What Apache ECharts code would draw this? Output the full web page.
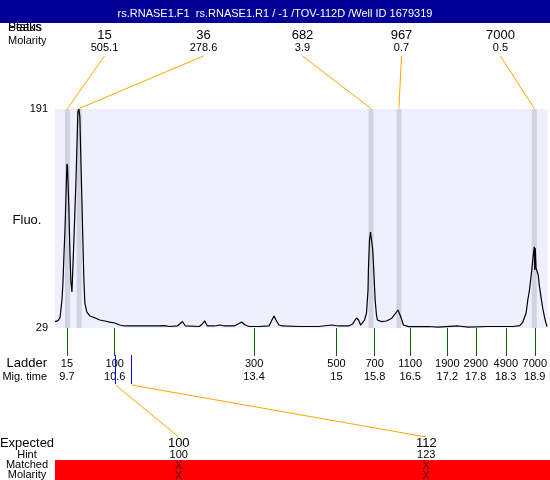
<!DOCTYPE html>
<html><head><meta charset="utf-8">
<script src="https://cdn.jsdelivr.net/npm/echarts@6/dist/echarts.min.js"></script>
<style>html,body{margin:0;padding:0;background:#fff}#c{width:550px;height:480px}</style>
</head><body><div id="c"></div>
<script>
const title = 'rs.RNASE1.F1  rs.RNASE1.R1 / -1 /TOV-112D /Well ID 1679319';
const traceTime = [9.465,9.524,9.563,9.602,9.622,9.641,9.661,9.680,9.700,9.710,9.720,9.739,9.759,9.778,9.798,9.817,9.837,9.857,9.876,9.896,9.915,9.935,9.954,9.974,9.994,10.013,10.033,10.052,10.091,10.150,10.209,10.248,10.346,10.444,10.542,10.640,10.737,10.835,11.129,11.520,11.618,11.716,11.873,11.970,12.029,12.303,12.362,12.411,12.460,12.597,12.714,12.793,12.989,13.067,13.135,13.204,13.283,13.478,13.674,13.732,13.772,13.811,13.869,13.928,14.261,14.652,14.907,15.044,15.240,15.318,15.395,15.434,15.474,15.513,15.552,15.591,15.621,15.630,15.650,15.670,15.689,15.714,15.738,15.761,15.787,15.806,15.885,15.983,16.022,16.081,16.120,16.169,16.208,16.251,16.286,16.316,16.414,16.805,17.001,17.392,17.588,17.980,18.273,18.469,18.606,18.665,18.730,18.763,18.796,18.841,18.870,18.890,18.900,18.910,18.925,18.945,18.968,18.988,19.023,19.056,19.090,19.115,19.141];
const traceFluo = [33.7,34.5,36.4,49.7,63.0,83.0,101.5,125.9,150.3,148.8,138.5,116.3,84.5,63.0,55.6,74.1,94.1,116.3,136.3,162.9,188.8,191.0,185.1,153.3,123.7,94.1,64.5,47.5,40.8,37.9,37.1,36.4,34.9,34.2,33.4,32.7,31.2,30.5,30.5,30.5,30.8,30.1,30.5,33.8,30.5,30.1,32.0,34.2,30.5,30.5,31.2,30.5,30.5,32.0,33.4,31.2,30.1,30.1,30.5,34.9,37.9,34.9,31.2,30.5,30.1,30.1,31.2,30.5,30.5,32.0,36.4,34.9,31.2,32.0,34.9,40.1,57.1,74.1,94.1,100.0,100.8,86.7,68.2,49.7,38.6,34.9,33.7,34.2,34.9,36.0,37.4,40.1,42.3,38.6,34.9,31.2,30.0,30.1,29.7,30.5,29.7,30.1,30.1,30.1,30.8,33.4,40.1,49.7,57.1,71.9,83.0,89.1,71.9,88.2,73.4,73.4,68.2,60.8,51.9,43.8,37.4,33.4,30.0];
const peakTimes = [9.71, 9.941, 15.68, 16.228, 18.89];
const peakSizes = ['15','36','682','967','7000'];
const peakMolarity = ['505.1','278.6','3.9','0.7','0.5'];
const ladderSizes = ['15','100','300','500','700','1100','1900','2900','4900','7000'];
const ladderTimes = [9.70,10.64,13.38,15.00,15.75,16.45,17.18,17.74,18.33,18.90];
const ladderTimeLabels = ['9.7','10.6','13.4','15','15.8','16.5','17.2','17.8','18.3','18.9'];
const expectedSizes = ['100','112'];
const hintSizes = ['100','123'];
const matchedMarks = ['X','X'];
const molarityMarks = ['X','X'];
const expectedTimes = [10.64, 10.955];
const yTicks = [29, 191];

const FONT = '"Liberation Sans", Arial, sans-serif';
const XMIN = 9.465, XMAX = 19.154, bandHalf = 0.049;
const chart = echarts.init(document.getElementById('c'));
chart.setOption({
  animation: false,
  backgroundColor: '#fff',
  textStyle: {fontFamily: FONT},
  grid: [
    {left: 55, right: 0, top: 109, height: 219, show: true, backgroundColor: '#EFEFFD', borderWidth: 0},
    {left: 55, right: 0, top: 30, height: 10},
    {left: 55, right: 0, top: 460, height: 20, show: true, backgroundColor: '#FF0000', borderWidth: 0}
  ],
  xAxis: [
    {gridIndex: 0, type: 'value', min: XMIN, max: XMAX,
     axisLine: {show: false}, splitLine: {show: false},
     axisTick: {show: true, customValues: ladderTimes, length: 28, lineStyle: {color: '#006400', width: 1}},
     axisLabel: {customValues: ladderTimes, margin: 29, showMinLabel: true, showMaxLabel: true,
       formatter: function (v) {
         let i = 0, best = 1e9;
         ladderTimes.forEach((t, k) => { if (Math.abs(t - v) < best) { best = Math.abs(t - v); i = k; } });
         return '{a|' + ladderSizes[i] + '}\n{b|' + ladderTimeLabels[i] + '}';
       },
       rich: {a: {fontSize: 11, lineHeight: 13, color: '#000', fontFamily: FONT},
              b: {fontSize: 11, lineHeight: 13, color: '#000', fontFamily: FONT}}}},
    {gridIndex: 1, type: 'category', data: peakSizes, show: false},
    {gridIndex: 2, type: 'category', data: expectedSizes, show: false}
  ],
  yAxis: [
    {gridIndex: 0, type: 'value', min: 29, max: 191,
     axisLine: {show: false}, axisTick: {show: false}, splitLine: {show: false},
     axisLabel: {customValues: yTicks, margin: 7, color: '#000', fontSize: 11, fontFamily: FONT}},
    {gridIndex: 1, type: 'value', show: false},
    {gridIndex: 2, type: 'value', show: false}
  ],
  series: [{
    type: 'line', xAxisIndex: 0, yAxisIndex: 0, silent: true,
    data: traceTime.map((t, i) => [t, traceFluo[i]]),
    symbol: 'none', showSymbol: false,
    lineStyle: {color: '#000', width: 1.2},
    markArea: {silent: true, itemStyle: {color: '#D2D2E0'},
      data: peakTimes.map(t => [{xAxis: t - bandHalf}, {xAxis: t + bandHalf}])}
  }]
});

const px = (axis, v) => chart.convertToPixel({xAxisIndex: axis}, v);
const g = [];
const txt = (x, y, s, size, opts) => g.push(Object.assign({type: 'text', x: x, y: y, z: 100,
  style: Object.assign({text: s, fill: '#000', font: size + 'px ' + FONT, align: 'center', verticalAlign: 'middle'}, (opts || {}))}));
const ln = (x1, y1, x2, y2, color, z) => g.push({type: 'line', z: z || 90,
  shape: {x1: x1, y1: y1, x2: x2, y2: y2}, style: {stroke: color, lineWidth: 1}});

// top-left labels (partly hidden under header)
txt(8, 28, 'Peaks', 12, {align: 'left'});
txt(8, 28, 'Status', 12, {align: 'left'});
txt(8, 41, 'Molarity', 11, {align: 'left'});
// header bar
g.push({type: 'rect', z: 110, shape: {x: 0, y: 0, width: 550, height: 23}, style: {fill: '#000096'}});
g.push({type: 'text', z: 111, x: 275, y: 14, style: {text: title, fill: '#fff', font: '11px ' + FONT, align: 'center', verticalAlign: 'middle'}});

// peak labels and connectors
peakSizes.forEach((s, i) => {
  const lx = px(1, s);
  txt(lx, 35, s, 13);
  txt(lx, 47.5, peakMolarity[i], 11);
  ln(lx, 56, px(0, peakTimes[i]), 108.5, '#FFA500');
});

// axis titles
txt(27, 220, 'Fluo.', 13);
txt(47, 363, 'Ladder', 13, {align: 'right'});
txt(47, 377, 'Mig. time', 11, {align: 'right'});

// expected section
txt(27, 443, 'Expected', 13);
txt(27, 455, 'Hint', 11);
txt(27, 465, 'Matched', 11);
txt(27, 475, 'Molarity', 11);
expectedSizes.forEach((s, i) => {
  const ex = px(2, s);
  const bx = Math.round(px(0, expectedTimes[i])) + 0.5;
  ln(bx, 355, bx, 384, '#0000FF');
  ln(bx, 385, ex, 437, '#FFA500');
  txt(ex, 443, s, 13);
  txt(ex, 455, hintSizes[i], 11);
  txt(ex, 465.5, matchedMarks[i], 11, {fill: '#400000'});
  txt(ex, 475.5, molarityMarks[i], 11, {fill: '#400000'});
});

chart.setOption({graphic: {elements: g}});
</script>
</body></html>
